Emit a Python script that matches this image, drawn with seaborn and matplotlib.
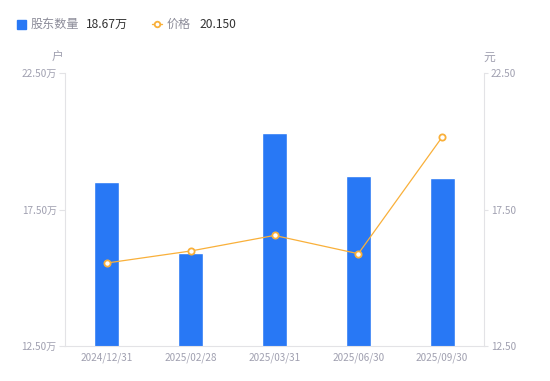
import numpy as np
import pandas as pd
import matplotlib
matplotlib.use("Agg")
import matplotlib.pyplot as plt
from matplotlib.patches import Rectangle
from matplotlib.lines import Line2D
import seaborn as sns

# data
dates = ["2024/12/31", "2025/02/28", "2025/03/31", "2025/06/30", "2025/09/30"]
holders = [18.51, 15.91, 20.29, 18.74, 18.67]   # 万户
price = [15.54, 15.98, 16.55, 15.88, 20.15]      # 元
y_ticks = [12.5, 17.5, 22.5]

bar_color = "#2878F5"
line_color = "#F9B03A"
tick_color = "#A0A0B0"
axis_color = "#E3E3E6"

sns.set_style("white")
plt.rcParams['font.family'] = ['Noto Sans CJK SC', 'DejaVu Sans']

df = pd.DataFrame({"date": dates, "holders": holders, "price": price})

fig = plt.figure(figsize=(5.5, 3.81), dpi=100)
ax = fig.add_axes([65 / 550, 35 / 381, 419 / 550, 273 / 381])

sns.barplot(data=df, x="date", y="holders", color=bar_color, width=0.3,
            saturation=1, ax=ax)
ax.set_ylim(12.5, 22.5)
ax.set_xlim(-0.5, 4.5)
ax.set_yticks(y_ticks)
ax.set_yticklabels([f"{v:.2f}万" for v in y_ticks])
ax.set_xlabel("")
ax.set_ylabel("")

ax2 = ax.twinx()
sns.lineplot(data=df, x="date", y="price", color=line_color, linewidth=0.9,
             marker="o", markersize=4.5, markerfacecolor="white",
             markeredgecolor=line_color, markeredgewidth=1.3, ax=ax2)
ax2.set_ylim(12.5, 22.5)
ax2.set_xlim(-0.5, 4.5)
ax2.set_yticks(y_ticks)
ax2.set_yticklabels([f"{v:.2f}" for v in y_ticks])
ax2.set_ylabel("")

for a in (ax, ax2):
    for s in a.spines.values():
        s.set_visible(False)
    a.tick_params(axis="both", colors=axis_color, labelcolor=tick_color,
                  labelsize=7.2, length=4, width=0.8, pad=2)
ax.spines["left"].set_visible(True)
ax.spines["left"].set_color(axis_color)
ax.spines["bottom"].set_visible(True)
ax.spines["bottom"].set_color(axis_color)
ax2.spines["right"].set_visible(True)
ax2.spines["right"].set_color(axis_color)
ax.tick_params(axis="x", length=0, pad=5)
ax2.tick_params(axis="y", length=3)

# unit labels
fig.text(58 / 550, 1 - 57 / 381, "户", color=tick_color, fontsize=8.5,
         ha="center", va="center")
fig.text(489 / 550, 1 - 57 / 381, "元", color=tick_color, fontsize=8.5,
         ha="center", va="center")

# legend drawn by hand
ly = 1 - 24 / 381
fig.patches.append(Rectangle((17 / 550, 1 - 28.5 / 381), 8.5 / 550, 8.5 / 381,
                             transform=fig.transFigure, color=bar_color))
fig.text(31 / 550, ly, "股东数量", color="#8C8C99", fontsize=8.7, va="center")
fig.text(86 / 550, ly, "18.67万", color="#333333", fontsize=8.7, va="center")
fig.lines.append(Line2D([152 / 550, 162 / 550], [ly, ly], transform=fig.transFigure,
                        color=line_color, linewidth=1))
fig.lines.append(Line2D([157 / 550], [ly], transform=fig.transFigure,
                        marker="o", markersize=4, markerfacecolor="white",
                        markeredgecolor=line_color, markeredgewidth=1.3))
fig.text(167 / 550, ly, "价格", color="#8C8C99", fontsize=8.7, va="center")
fig.text(199 / 550, ly, "20.150", color="#333333", fontsize=8.7, va="center")

fig.savefig("out.png", dpi=100)
